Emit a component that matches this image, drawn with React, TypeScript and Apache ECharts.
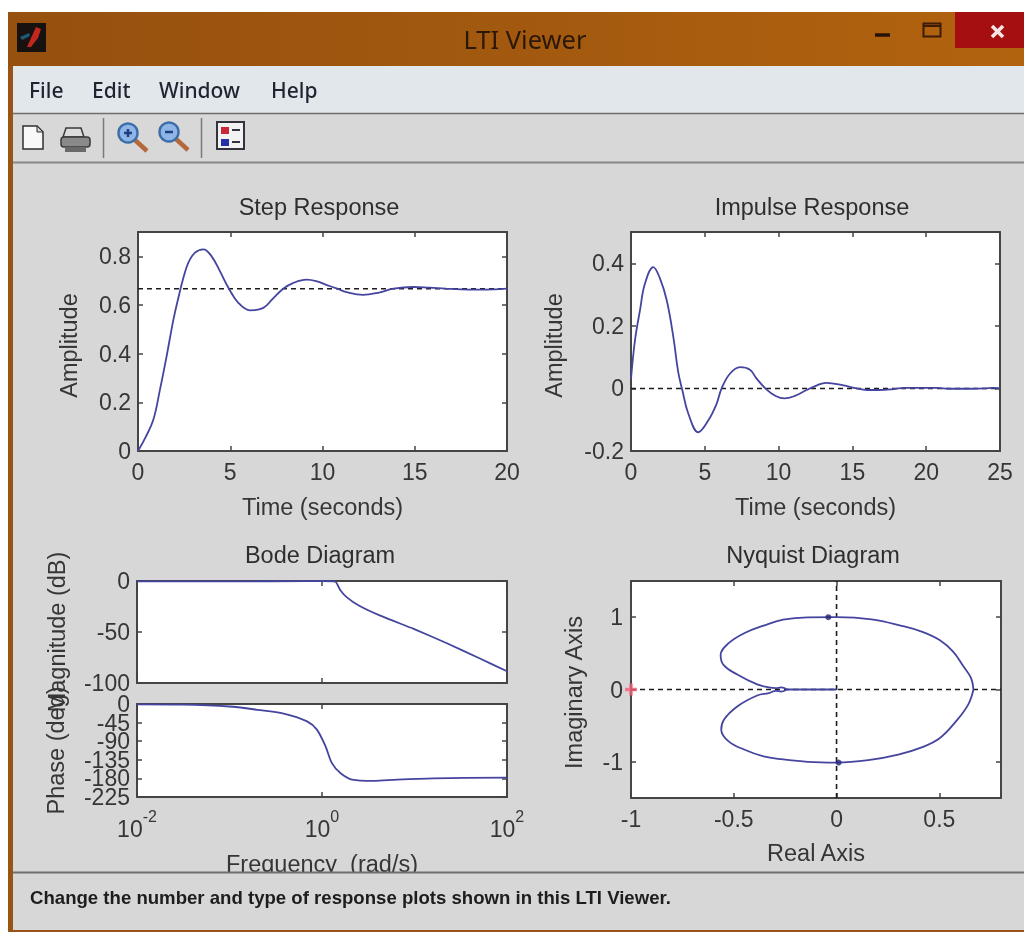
import React, { useEffect, useRef } from "react";
import * as echarts from "echarts";

const stepT = [0, 0.4, 0.83, 1.19, 1.55, 1.92, 2.19, 2.46, 2.73, 3.09, 3.54, 3.99, 4.44, 4.9, 5.44, 6.07, 6.79, 7.3, 7.87, 8.4, 9.14, 9.7, 10.2, 10.8, 11.3, 12.2, 13, 13.85, 14.9, 15.8, 16.7, 17.5, 18.4, 19.3, 20];
const stepY = [0, 0.055, 0.128, 0.252, 0.389, 0.54, 0.63, 0.712, 0.774, 0.815, 0.829, 0.8, 0.739, 0.671, 0.609, 0.578, 0.588, 0.625, 0.667, 0.69, 0.704, 0.697, 0.683, 0.667, 0.653, 0.642, 0.65, 0.667, 0.674, 0.671, 0.667, 0.664, 0.663, 0.664, 0.667];
const stepFinalT = [0, 20];
const stepFinalY = [0.667, 0.667];

const impulseT = [0, 0.27, 0.61, 0.95, 1.51, 1.96, 2.42, 2.87, 3.2, 3.48, 3.88, 4.56, 5.24, 5.8, 6.14, 6.7, 7.39, 8.06, 8.5, 9.17, 9.8, 10.4, 11.1, 11.9, 12.6, 13.2, 14.4, 15.2, 16, 16.8, 17.8, 18.5, 19.5, 20.8, 21.5, 23, 24, 24.5, 25];
const impulseY = [0.03, 0.154, 0.25, 0.336, 0.388, 0.352, 0.282, 0.164, 0.052, -0.006, -0.08, -0.14, -0.102, -0.049, 0, 0.047, 0.068, 0.06, 0.032, -0.003, -0.024, -0.032, -0.024, -0.005, 0.01, 0.018, 0.01, 0.001, -0.005, -0.005, -0.002, 0.002, 0.002, 0.002, -0.001, -0.001, 0, 0.002, 0.001];
const impulseFinalT = [0, 25];
const impulseFinalY = [0, 0];

const magW = [0.01, 0.1, 0.7, 1, 1.39, 1.58, 1.86, 2.5, 4.27, 9.8, 22.4, 51, 100];
const magDb = [-0.3, -0.3, -0.2, 0, -0.5, -9, -16, -24, -34, -47, -61, -76, -88.5];
const phaseW = [0.01, 0.03, 0.1, 0.2, 0.385, 0.69, 0.88, 1.09, 1.28, 1.58, 2.11, 3.6, 6.5, 16, 100];
const phaseDeg = [-1, -1.6, -6, -14, -23, -42, -62, -102, -143, -167, -183, -186, -183, -180, -178];

const nyqUpperRe = [0.666, 0.654, 0.617, 0.568, 0.503, 0.414, 0.317, 0.17, 0, -0.14, -0.26, -0.355, -0.45, -0.525, -0.564, -0.55, -0.483, -0.386, -0.33, -0.295, -0.27, -0.24];
const nyqUpperIm = [0, 0.16, 0.32, 0.52, 0.68, 0.8, 0.88, 0.97, 1, 0.997, 0.965, 0.883, 0.777, 0.64, 0.48, 0.34, 0.207, 0.07, 0.03, 0.02, 0.028, 0];
const nyqLowerRe = [0.666, 0.641, 0.584, 0.503, 0.414, 0.3, 0.154, 0, -0.14, -0.26, -0.355, -0.45, -0.525, -0.561, -0.548, -0.483, -0.386, -0.33, -0.295, -0.27, -0.24];
const nyqLowerIm = [0, -0.205, -0.43, -0.67, -0.8, -0.9, -0.977, -1.01, -1, -0.966, -0.925, -0.83, -0.717, -0.555, -0.417, -0.234, -0.083, -0.05, -0.02, -0.028, 0];
const nyqTailRe = [-0.24, 0];
const nyqTailIm = [0, 0];
const nyqArrowRe = [-0.04, 0.01];
const nyqArrowIm = [1, -1.01];
const nyqCriticalRe = [-1];
const nyqCriticalIm = [0];
const nyqZeroReLineX = [-1, 0.8];
const nyqZeroReLineY = [0, 0];
const nyqZeroImLineX = [0, 0];
const nyqZeroImLineY = [-1.5, 1.5];

const stepXTicks = [0, 5, 10, 15, 20];
const stepYTicks = [0, 0.2, 0.4, 0.6, 0.8];
const impulseXTicks = [0, 5, 10, 15, 20, 25];
const impulseYTicks = [-0.2, 0, 0.2, 0.4];
const magYTicks = [-100, -50, 0];
const phaseYTicks = [-225, -180, -135, -90, -45, 0];
// The phase labels collide in the reference; every other one sits on a second,
// line-less axis so that the library keeps all six of them.
const phaseYLabelsA = [-225, -135, -45];
const phaseYLabelsB = [-180, -90, 0];
const nyqXTicks = [-1, -0.5, 0, 0.5];
const nyqYTicks = [-1, 0, 1];

const menuItems = ["File", "Edit", "Window", "Help"];
const menuX = [29, 92, 159, 271];

const SANS = "'Liberation Sans', Arial, sans-serif";
const CURVE = "#45459f";
const AXIS = "#454545";
const LABEL = "#363636";
const PANEL = "#d7d7d7";
const BROWN = "#9a5316";

function zipXY(xs: number[], ys: number[]) {
  return xs.map((x, i) => [x, ys[i]]);
}

type AxisCfg = {
  min: number;
  max: number;
  ticks?: number[];
  labelValues?: number[];
  log?: boolean;
  labels?: boolean;
  name?: string;
  nameGap?: number;
  margin?: number;
  namePadding?: number[];
};

function makeAxes(kind: "x" | "y", grid: number, c: AxisCfg) {
  const base = (primary: boolean) => {
    const ax: any = {
      type: c.log ? "log" : "value",
      gridIndex: grid,
      min: c.min,
      max: c.max,
      z: 3,
      position: kind === "x" ? (primary ? "bottom" : "top") : primary ? "left" : "right",
      splitLine: { show: false },
      axisLine: { show: true, onZero: false, lineStyle: { color: AXIS, width: 2 } },
      axisTick: { show: true, inside: true, length: 5, lineStyle: { color: AXIS, width: 1.5 } },
      axisLabel: { show: false },
    };
    if (c.log) {
      ax.logBase = 100;
    } else if (c.ticks) {
      ax.axisTick.customValues = c.ticks;
    }
    if (primary && c.labels !== false) {
      ax.axisLabel = {
        show: true,
        color: LABEL,
        fontFamily: SANS,
        fontSize: 23,
        margin: c.margin ?? 8,
        interval: 0,
        hideOverlap: false,
      };
      if (c.log) {
        ax.axisLabel.formatter = (v: number) => `{b|10}{s|${Math.round(Math.log10(v))}}`;
        ax.axisLabel.rich = {
          b: { fontSize: 23, fontFamily: SANS, color: LABEL, padding: [14, 0, 0, 0] },
          s: { fontSize: 16, fontFamily: SANS, color: LABEL, padding: [0, 0, 10, 0] },
        };
      } else if (c.ticks) {
        ax.axisLabel.customValues = c.labelValues ?? c.ticks;
      }
    }
    if (primary && c.name) {
      ax.name = c.name;
      ax.nameLocation = "middle";
      ax.nameGap = c.nameGap;
      ax.nameMoveOverlap = false;
      ax.nameTextStyle = { color: LABEL, fontFamily: SANS, fontSize: 23.5, padding: c.namePadding ?? 0 };
      if (kind === "y") ax.nameRotate = 90;
    }
    return ax;
  };
  return [base(true), base(false)];
}

const lineSeries = (grid: number, data: number[][], smooth: boolean | number = 0.4) => ({
  type: "line",
  xAxisIndex: grid * 2,
  yAxisIndex: grid * 2,
  data,
  showSymbol: false,
  smooth,
  silent: true,
  z: 5,
  lineStyle: { color: CURVE, width: 1.8 },
});

const dashSeries = (grid: number, data: number[][]) => ({
  type: "line",
  xAxisIndex: grid * 2,
  yAxisIndex: grid * 2,
  data,
  showSymbol: false,
  silent: true,
  z: 4,
  lineStyle: { color: "#1c1c1c", width: 1.6, type: [5, 4] },
});

const gridBox = (left: number, right: number, top: number, bottom: number) => ({
  left,
  top,
  width: right - left,
  height: bottom - top,
  show: true,
  backgroundColor: "#ffffff",
  borderWidth: 0,
  z: 1,
});

const panelTitle = (text: string, cx: number, top: number) => ({
  text,
  left: cx,
  top,
  textAlign: "center",
  padding: 0,
  textStyle: { color: "#2e2e2e", fontFamily: SANS, fontSize: 23.5, fontWeight: "normal" },
});

const rect = (x: number, y: number, w: number, h: number, fill: any, z = -1) => ({
  type: "rect",
  z,
  silent: true,
  shape: { x, y, width: w, height: h },
  style: { fill },
});

const hline = (x1: number, y1: number, x2: number, y2: number, stroke: string, lineWidth = 1, z = -1) => ({
  type: "line",
  z,
  silent: true,
  shape: { x1, y1, x2, y2 },
  style: { stroke, lineWidth },
});

const poly = (points: number[][], fill: string, stroke?: string, lineWidth = 1, z = 2) => ({
  type: "polygon",
  z,
  silent: true,
  shape: { points },
  style: { fill, stroke, lineWidth },
});

const label = (text: string, x: number, y: number, font: string, fill: string, textAlign = "left", z = 2) => ({
  type: "text",
  z,
  silent: true,
  x,
  y,
  style: { text, font, fill, textAlign, textVerticalAlign: "middle" },
});

const magnifier = (cx: number, cy: number, minus: boolean) => [
  hline(cx + 7, cy + 7, cx + 19, cy + 18, "#b5683a", 4.5, 2),
  {
    type: "circle",
    z: 2,
    silent: true,
    shape: { cx, cy, r: 9.5 },
    style: { fill: "#8fb4e6", stroke: "#3b6ea8", lineWidth: 2.5 },
  },
  hline(cx - 4, cy, cx + 4, cy, "#1d3f86", 2.5, 3),
  ...(minus ? [] : [hline(cx, cy - 4, cx, cy + 4, "#1d3f86", 2.5, 3)]),
];

function chromeGraphics() {
  const NOTO = "'Noto Sans', sans-serif";
  return [
    rect(8, 12, 1016, 920, BROWN, -3),
    rect(8, 12, 1016, 54, new echarts.graphic.LinearGradient(0, 0, 1, 0, [
      { offset: 0, color: "#96500f" },
      { offset: 0.5, color: "#a2590f" },
      { offset: 1, color: "#b2630e" },
    ]), -2),
    rect(13, 66, 1011, 47, "#e2e7eb", -2),
    hline(13, 113.5, 1024, 113.5, "#6e6e6e", 1.5, -1),
    rect(13, 114, 1011, 48, "#d8d8d8", -2),
    hline(13, 162.5, 1024, 162.5, "#868686", 2, -1),
    rect(13, 163, 1011, 709, PANEL, -2),
    rect(13, 872, 1011, 60, PANEL, 50),
    hline(13, 872.5, 1024, 872.5, "#6f6f6f", 2, 51),
    rect(8, 932, 1016, 2, "#ffffff", 51),
    rect(8, 930, 1016, 2, BROWN, 51),
    rect(8, 870, 5, 62, BROWN, 51),
    // title-bar
    rect(17, 23, 29, 29, "#17120f", 2),
    poly([[36, 27], [41, 29], [38, 38], [31, 47], [27, 47], [31, 38]], "#c1271d", undefined, 1, 3),
    poly([[20, 37], [29, 33], [30, 36], [22, 40]], "#1c5a78", undefined, 1, 3),
    label("LTI Viewer", 525, 39, `25.5px ${NOTO}`, "#2b1708", "center"),
    rect(955, 12, 69, 36, "#a60f12", 1),
    hline(875, 35, 890, 35, "#2a1208", 3.5, 2),
    {
      type: "rect", z: 2, silent: true,
      shape: { x: 923.5, y: 23.5, width: 17, height: 13 },
      style: { fill: "none", stroke: "#3a1c08", lineWidth: 2 },
    },
    hline(923, 26, 941, 26, "#3a1c08", 2, 2),
    hline(992, 26, 1003, 37, "#f4e6e4", 3.5, 2),
    hline(1003, 26, 992, 37, "#f4e6e4", 3.5, 2),
    // menu
    ...menuItems.map((m, i) => label(m, menuX[i], 90, `500 21px ${NOTO}`, "#1f2530")),
    // toolbar: new document
    poly([[23, 126], [37, 126], [43, 132], [43, 149], [23, 149]], "#f8f8f8", "#2e2e2e", 1.5),
    poly([[37, 126], [37, 132], [43, 132]], "#cfcfcf", "#2e2e2e", 1),
    // toolbar: printer
    poly([[66, 128], [81, 128], [84, 137], [63, 137]], "#dcdcdc", "#3a3a3a", 1.5),
    {
      type: "rect", z: 2, silent: true,
      shape: { x: 61, y: 137, width: 29, height: 10, r: 3 },
      style: { fill: "#8a8a8a", stroke: "#3a3a3a", lineWidth: 1.5 },
    },
    rect(65, 147, 21, 5, "#6a6a6a", 2),
    hline(103.5, 118, 103.5, 158, "#7a7a7a", 1.5, 1),
    hline(201.5, 118, 201.5, 158, "#7a7a7a", 1.5, 1),
    ...magnifier(128, 133, false),
    ...magnifier(169, 132, true),
    // toolbar: legend
    {
      type: "rect", z: 2, silent: true,
      shape: { x: 217, y: 122, width: 27, height: 27 },
      style: { fill: "#f2f2f2", stroke: "#33333d", lineWidth: 2 },
    },
    rect(221, 127, 8, 7, "#c8283a", 3),
    rect(221, 139, 8, 7, "#2730a8", 3),
    hline(232, 130, 240, 130, "#33333d", 2, 3),
    hline(232, 142, 240, 142, "#33333d", 2, 3),
    // status
    label(
      "Change the number and type of response plots shown in this LTI Viewer.",
      30, 897, `bold 18.6px ${SANS}`, "#1d1d1d", "left", 52,
    ),
  ];
}

export default function App() {
  const ref = useRef<HTMLDivElement>(null);
  useEffect(() => {
    document.body.style.margin = "0";
    const chart = echarts.init(ref.current!, undefined, { renderer: "svg" });
    const plusPath = "path://M3.5 0H6.5V3.5H10V6.5H6.5V10H3.5V6.5H0V3.5H3.5Z";
    const xAxis = [
      ...makeAxes("x", 0, { min: 0, max: 20, ticks: stepXTicks, name: "Time (seconds)", nameGap: 44, margin: 9 }),
      ...makeAxes("x", 1, { min: 0, max: 25, ticks: impulseXTicks, name: "Time (seconds)", nameGap: 44, margin: 9 }),
      ...makeAxes("x", 2, { min: 0.01, max: 100, log: true, labels: false }),
      ...makeAxes("x", 3, { min: 0.01, max: 100, log: true, name: "Frequency  (rad/s)", nameGap: 55, margin: 6 }),
      ...makeAxes("x", 4, { min: -1, max: 0.8, ticks: nyqXTicks, name: "Real Axis", nameGap: 43, margin: 9 }),
    ];
    const phaseLabelAxis = makeAxes("y", 3, { min: -225, max: 0, ticks: phaseYLabelsB, margin: 7 })[0];
    phaseLabelAxis.axisLine = { show: false };
    phaseLabelAxis.axisTick = { show: false };
    const yAxis = [
      ...makeAxes("y", 0, { min: 0, max: 0.9, ticks: stepYTicks, name: "Amplitude", nameGap: 57, margin: 7, namePadding: [0, 8, 0, 0] }),
      ...makeAxes("y", 1, { min: -0.2, max: 0.5, ticks: impulseYTicks, name: "Amplitude", nameGap: 65, margin: 7, namePadding: [0, 8, 0, 0] }),
      ...makeAxes("y", 2, { min: -100, max: 0, ticks: magYTicks, name: "Magnitude (dB)", nameGap: 68, margin: 7 }),
      ...makeAxes("y", 3, { min: -225, max: 0, ticks: phaseYTicks, labelValues: phaseYLabelsA, name: "Phase (deg)", nameGap: 69, margin: 7 }),
      ...makeAxes("y", 4, { min: -1.5, max: 1.5, ticks: nyqYTicks, name: "Imaginary Axis", nameGap: 45, margin: 8, namePadding: [0, 6, 0, 0] }),
      phaseLabelAxis,
    ];
    chart.setOption({
      animation: false,
      backgroundColor: "#ffffff",
      title: [
        panelTitle("Step Response", 319, 195),
        panelTitle("Impulse Response", 812, 195),
        panelTitle("Bode Diagram", 320, 543),
        panelTitle("Nyquist Diagram", 813, 543),
      ],
      grid: [
        gridBox(138, 507, 232, 451),
        gridBox(631, 1000, 232, 451),
        gridBox(137, 507, 581, 683),
        gridBox(137, 507, 704, 797),
        gridBox(631, 1001, 581, 798),
      ],
      xAxis,
      yAxis,
      graphic: { elements: chromeGraphics() },
      series: [
        dashSeries(0, zipXY(stepFinalT, stepFinalY)),
        lineSeries(0, zipXY(stepT, stepY)),
        dashSeries(1, zipXY(impulseFinalT, impulseFinalY)),
        lineSeries(1, zipXY(impulseT, impulseY)),
        lineSeries(2, zipXY(magW, magDb), 0.2),
        lineSeries(3, zipXY(phaseW, phaseDeg), 0.3),
        dashSeries(4, zipXY(nyqZeroReLineX, nyqZeroReLineY)),
        dashSeries(4, zipXY(nyqZeroImLineX, nyqZeroImLineY)),
        lineSeries(4, zipXY(nyqUpperRe, nyqUpperIm)),
        lineSeries(4, zipXY(nyqLowerRe, nyqLowerIm)),
        lineSeries(4, zipXY(nyqTailRe, nyqTailIm), false),
        {
          type: "scatter",
          xAxisIndex: 8,
          yAxisIndex: 8,
          silent: true,
          z: 6,
          symbol: "circle",
          symbolSize: 6,
          itemStyle: { color: "#23237a" },
          data: zipXY(nyqArrowRe, nyqArrowIm),
        },
        {
          type: "scatter",
          xAxisIndex: 8,
          yAxisIndex: 8,
          silent: true,
          clip: false,
          z: 6,
          symbol: plusPath,
          symbolSize: 12,
          itemStyle: { color: "#f5607a" },
          data: zipXY(nyqCriticalRe, nyqCriticalIm),
        },
      ],
    });
    return () => chart.dispose();
  }, []);
  return (
    <div
      ref={ref}
      style={{ width: 1024, height: 934, position: "absolute", left: 0, top: 0, filter: "blur(0.7px)" }}
    />
  );
}
